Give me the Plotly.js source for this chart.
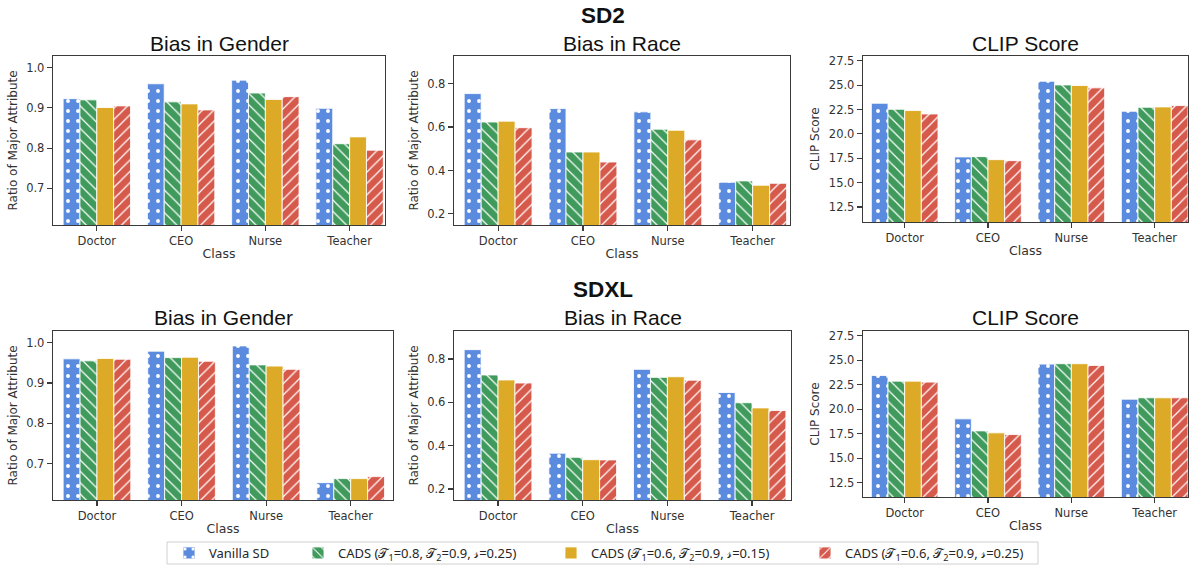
<!DOCTYPE html>
<html>
<head>
<meta charset="utf-8">
<script src="https://cdn.plot.ly/plotly-3.0.1.min.js"></script>
<style>html,body{margin:0;padding:0;background:#fff;}#chart{width:1193px;height:569px;}</style>
</head>
<body>
<div id="chart"></div>
<script>
// ---------------- DATA ----------------
const classes = ["Doctor", "CEO", "Nurse", "Teacher"];
const seriesNames = [
  "Vanilla SD",
  "CADS (𝒯<sub>1</sub>=0.8, 𝒯<sub>2</sub>=0.9, 𝓈=0.25)",
  "CADS (𝒯<sub>1</sub>=0.6, 𝒯<sub>2</sub>=0.9, 𝓈=0.15)",
  "CADS (𝒯<sub>1</sub>=0.6, 𝒯<sub>2</sub>=0.9, 𝓈=0.25)"
];
const rowTitles = ["SD2", "SDXL"];
const panelTitles = ["Bias in Gender", "Bias in Race", "CLIP Score"];

// SD2
const sd2Gender_vanilla = [0.923, 0.960, 0.969, 0.899];
const sd2Gender_cads1   = [0.920, 0.915, 0.937, 0.811];
const sd2Gender_cads2   = [0.901, 0.910, 0.921, 0.828];
const sd2Gender_cads3   = [0.905, 0.895, 0.928, 0.795];

const sd2Race_vanilla = [0.754, 0.685, 0.670, 0.346];
const sd2Race_cads1   = [0.623, 0.485, 0.590, 0.352];
const sd2Race_cads2   = [0.627, 0.485, 0.585, 0.332];
const sd2Race_cads3   = [0.597, 0.439, 0.541, 0.341];

const sd2Clip_vanilla = [23.15, 17.64, 25.41, 22.33];
const sd2Clip_cads1   = [22.53, 17.67, 25.03, 22.74];
const sd2Clip_cads2   = [22.40, 17.36, 24.97, 22.77];
const sd2Clip_cads3   = [22.05, 17.26, 24.73, 22.91];

// SDXL
const sdxlGender_vanilla = [0.960, 0.979, 0.992, 0.653];
const sdxlGender_cads1   = [0.955, 0.963, 0.945, 0.663];
const sdxlGender_cads2   = [0.961, 0.964, 0.942, 0.663];
const sdxlGender_cads3   = [0.959, 0.954, 0.934, 0.668];

const sdxlRace_vanilla = [0.843, 0.365, 0.752, 0.645];
const sdxlRace_cads1   = [0.726, 0.346, 0.715, 0.598];
const sdxlRace_cads2   = [0.703, 0.335, 0.718, 0.574];
const sdxlRace_cads3   = [0.689, 0.334, 0.702, 0.562];

const sdxlClip_vanilla = [23.44, 19.01, 24.60, 21.02];
const sdxlClip_cads1   = [22.86, 17.78, 24.64, 21.16];
const sdxlClip_cads2   = [22.86, 17.58, 24.64, 21.16];
const sdxlClip_cads3   = [22.76, 17.41, 24.47, 21.16];

const ratioTicks = [0.7, 0.8, 0.9, 1.0];
const raceTicks = [0.2, 0.4, 0.6, 0.8];
const clipTicks = [12.5, 15.0, 17.5, 20.0, 22.5, 25.0, 27.5];

// ---------------- STYLE / LAYOUT ----------------
const W = 1193, H = 569;
const colors = ["#5b8bdf", "#3f9a5c", "#dcaa26", "#d65a4c"];
const patterns = [".", "\\", "", "/"];
const legendX = [169, 298, 551, 805];   // pixel left positions of legend entries
const legendIds = ["legend", "legend2", "legend3", "legend4"];

const panels = [
  {data:[sd2Gender_vanilla, sd2Gender_cads1, sd2Gender_cads2, sd2Gender_cads3], px:[53,385], py:[56,225], yr:[0.609,1.029], xr:[-0.52,3.42], ticks:ratioTicks, ytitle:"Ratio of Major Attribute"},
  {data:[sd2Race_vanilla, sd2Race_cads1, sd2Race_cads2, sd2Race_cads3], px:[454,790], py:[56,225], yr:[0.149,0.927], xr:[-0.52,3.44], ticks:raceTicks, ytitle:"Ratio of Major Attribute"},
  {data:[sd2Clip_vanilla, sd2Clip_cads1, sd2Clip_cads2, sd2Clip_cads3], px:[863,1188], py:[56,222], yr:[10.96,28.0], xr:[-0.5,3.4], ticks:clipTicks, ytitle:"CLIP Score"},
  {data:[sdxlGender_vanilla, sdxlGender_cads1, sdxlGender_cads2, sdxlGender_cads3], px:[53,393], py:[331,500], yr:[0.61,1.029], xr:[-0.52,3.5], ticks:ratioTicks, ytitle:"Ratio of Major Attribute"},
  {data:[sdxlRace_vanilla, sdxlRace_cads1, sdxlRace_cads2, sdxlRace_cads3], px:[454,791], py:[331,500], yr:[0.149,0.929], xr:[-0.52,3.46], ticks:raceTicks, ytitle:"Ratio of Major Attribute"},
  {data:[sdxlClip_vanilla, sdxlClip_cads1, sdxlClip_cads2, sdxlClip_cads3], px:[863,1188], py:[331,497], yr:[11.03,27.98], xr:[-0.5,3.4], ticks:clipTicks, ytitle:"CLIP Score"}
];

const fx = p => p / W;
const fy = p => 1 - p / H;

const traces = [];
const layout = {
  width: W, height: H,
  margin: {l:0, r:0, t:0, b:0},
  paper_bgcolor: "#ffffff",
  plot_bgcolor: "#ffffff",
  barmode: "group",
  bargap: 0.2,
  bargroupgap: 0,
  showlegend: true,
  annotations: [],
  shapes: [{
    type: "rect", xref: "paper", yref: "paper",
    x0: fx(167), x1: fx(1038), y0: fy(564), y1: fy(542),
    line: {color: "#d0d0d0", width: 1}, fillcolor: "rgba(0,0,0,0)", layer: "below"
  }],
  font: {family: "DejaVu Sans, sans-serif", color: "#262626"}
};

legendIds.forEach((id, s) => {
  layout[id] = {
    orientation: "h",
    x: fx(legendX[s]), xanchor: "left",
    y: fy(553), yanchor: "middle",
    bgcolor: "rgba(0,0,0,0)",
    borderwidth: 0,
    font: {family: "Noto Sans, DejaVu Sans, sans-serif", size: 13, color: "#262626"},
    itemwidth: 30
  };
});

panels.forEach((p, i) => {
  const n = i + 1;
  const xa = "x" + (n === 1 ? "" : n);
  const ya = "y" + (n === 1 ? "" : n);
  p.data.forEach((vals, s) => {
    traces.push({
      type: "bar",
      x: classes,
      y: vals,
      name: seriesNames[s],
      legend: legendIds[s],
      legendgroup: "s" + s,
      showlegend: i === 0,
      xaxis: xa, yaxis: ya,
      marker: {
        color: colors[s],
        line: {color: "rgba(255,255,255,0.85)", width: 1},
        pattern: {shape: patterns[s], fgcolor: "#ffffff", bgcolor: colors[s], size: s === 0 ? 10 : 8, solidity: s === 0 ? 0.12 : 0.15}
      },
      hoverinfo: "skip"
    });
  });
  const axCommon = {
    showline: true, mirror: true, linecolor: "#3a3a3a", linewidth: 1.25,
    ticks: "outside", ticklen: 5, tickwidth: 1.1, tickcolor: "#3a3a3a",
    showgrid: false, zeroline: false,
    tickfont: {family: "DejaVu Sans, sans-serif", size: 11.5, color: "#333333"}
  };
  layout["xaxis" + (n === 1 ? "" : n)] = Object.assign({}, axCommon, {
    domain: [fx(p.px[0]), fx(p.px[1])],
    anchor: ya,
    range: p.xr,
    type: "category",
    title: {text: "Class", font: {family: "DejaVu Sans, sans-serif", size: 12.5, color: "#333333"}, standoff: 2}
  });
  layout["yaxis" + (n === 1 ? "" : n)] = Object.assign({}, axCommon, {
    domain: [fy(p.py[1]), fy(p.py[0])],
    anchor: xa,
    range: p.yr,
    tickvals: p.ticks,
    tickformat: ".1f",
    title: {text: p.ytitle, font: {family: "DejaVu Sans, sans-serif", size: 12, color: "#333333"}, standoff: 6}
  });
  layout.annotations.push({
    text: panelTitles[i % 3],
    xref: "paper", yref: "paper",
    x: fx((p.px[0] + p.px[1]) / 2), y: fy(i < 3 ? 43 : 317),
    xanchor: "center", yanchor: "middle", showarrow: false,
    font: {family: "Liberation Sans, Arial, sans-serif", size: 21, color: "#111111"}
  });
});

rowTitles.forEach((t, r) => {
  layout.annotations.push({
    text: "<b>" + t + "</b>",
    xref: "paper", yref: "paper",
    x: fx(603), y: fy(r === 0 ? 15 : 289),
    xanchor: "center", yanchor: "middle", showarrow: false,
    font: {family: "Liberation Sans, Arial, sans-serif", size: 22.5, color: "#111111"}
  });
});

Plotly.newPlot("chart", traces, layout, {staticPlot: true, displayModeBar: false});
</script>
</body>
</html>
